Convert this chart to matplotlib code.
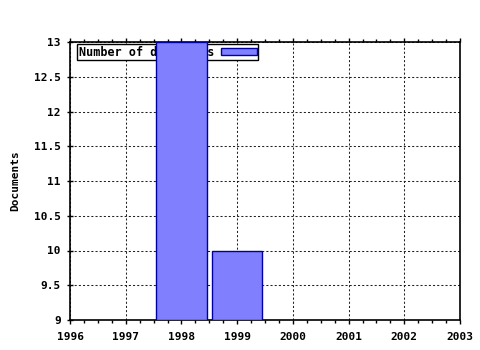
import matplotlib
matplotlib.use("Agg")
import matplotlib.pyplot as plt
from matplotlib.ticker import MultipleLocator, FuncFormatter

years = [1998, 1999]
docs = [13, 10]
series_label = "Number of documents"
xticks = [1996, 1997, 1998, 1999, 2000, 2001, 2002, 2003]
yticks = [9, 9.5, 10, 10.5, 11, 11.5, 12, 12.5, 13]

plt.rcParams['font.family'] = ['DejaVu Sans Mono']
plt.rcParams['font.weight'] = 'bold'

fig = plt.figure(figsize=(4.8, 3.5), dpi=100)
ax = fig.add_axes([70/480, 1-320/350, 390/480, 278/350])

bars = ax.bar(years, [d - 9 for d in docs], bottom=9, width=0.9,
              color='#8080ff', edgecolor='#0000a0', linewidth=1.0,
              label=series_label, zorder=6)

ax.set_xlim(1996, 2003)
ax.set_ylim(9, 13)
ax.set_xticks(xticks)
ax.set_yticks(yticks)
ax.yaxis.set_major_formatter(FuncFormatter(lambda v, p: f"{v:g}"))
ax.xaxis.set_minor_locator(MultipleLocator(0.25))
ax.tick_params(axis='x', which='both', labelsize=8, length=3, width=1,
               direction='out', top=True, bottom=True, pad=6)
ax.tick_params(axis='x', which='minor', length=2)
ax.tick_params(axis='y', which='both', labelsize=8, length=5, width=1,
               direction='inout', right=False, pad=4)
ax.grid(True, which='major', linestyle=(0, (2, 2)), color='#222222', linewidth=0.75, zorder=0)
for s in ax.spines.values():
    s.set_linewidth(1.2)
for lab in ax.get_xticklabels() + ax.get_yticklabels():
    lab.set_fontweight('bold')

ax.set_ylabel("Documents", fontsize=8, fontweight='bold', labelpad=10)

leg = ax.legend(loc='upper left', bbox_to_anchor=(0.018, 0.993), borderaxespad=0,
                fancybox=False, shadow=False, framealpha=1, edgecolor='black',
                markerfirst=False, handlelength=3.0, handleheight=0.5,
                borderpad=0.15, handletextpad=0.6, prop={'weight': 'bold', 'size': 8.5})
leg.get_frame().set_linewidth(1.0)
leg.set_zorder(5)

fig.savefig("out.png", dpi=100)
